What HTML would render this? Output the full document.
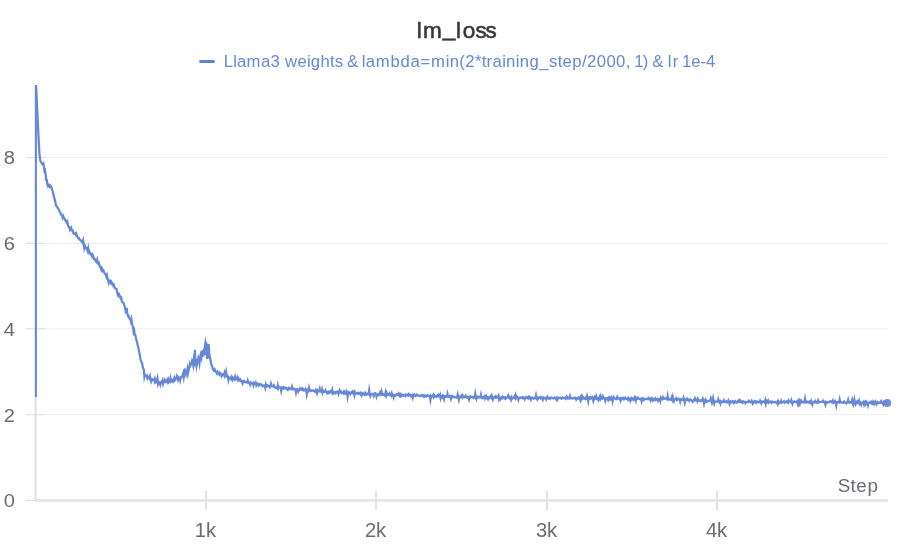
<!DOCTYPE html>
<html lang="en">
<head>
<meta charset="utf-8">
<title>lm_loss</title>
<style>
html,body{margin:0;padding:0;background:#fff;}
body{width:919px;height:552px;overflow:hidden;font-family:"Liberation Sans",Arial,sans-serif;}
svg{display:block;}
</style>
</head>
<body>
<svg width="919" height="552" viewBox="0 0 919 552" font-family="'Liberation Sans', Arial, sans-serif">
<rect width="919" height="552" fill="#ffffff"/>
<rect x="36" y="157.1" width="852" height="1" fill="#eeeef0"/>
<rect x="36" y="242.9" width="852" height="1" fill="#eeeef0"/>
<rect x="36" y="328.3" width="852" height="1" fill="#eeeef0"/>
<rect x="36" y="414.2" width="852" height="1" fill="#eeeef0"/>
<rect x="26" y="157.1" width="19" height="1" fill="#dddde0"/>
<rect x="26" y="242.9" width="19" height="1" fill="#dddde0"/>
<rect x="26" y="328.3" width="19" height="1" fill="#dddde0"/>
<rect x="26" y="414.2" width="19" height="1" fill="#dddde0"/>
<rect x="26" y="499.9" width="9" height="1" fill="#dddde0"/>
<rect x="34.4" y="85" width="2.4" height="416.6" fill="#e3e3e6"/>
<rect x="34.4" y="499.1" width="853.4" height="2.6" fill="#e3e3e6"/>
<rect x="205.0" y="491" width="2" height="19" fill="#e3e3e6"/>
<rect x="375.0" y="491" width="2" height="19" fill="#e3e3e6"/>
<rect x="546.0" y="491" width="2" height="19" fill="#e3e3e6"/>
<rect x="716.0" y="491" width="2" height="19" fill="#e3e3e6"/>
<text transform="scale(1.060,1)" x="3.49" y="163.80" font-size="19" fill="#6b6b76">8</text>
<text transform="scale(1.060,1)" x="3.43" y="250.00" font-size="19" fill="#6b6b76">6</text>
<text transform="scale(1.060,1)" x="3.55" y="336.20" font-size="19" fill="#6b6b76">4</text>
<text transform="scale(1.060,1)" x="3.49" y="421.90" font-size="19" fill="#6b6b76">2</text>
<text transform="scale(1.060,1)" x="3.49" y="506.60" font-size="19" fill="#6b6b76">0</text>
<text transform="scale(1.030,1)" x="189.09 199.96" y="537.00" font-size="19.6" fill="#6b6b76">1k</text>
<text transform="scale(1.030,1)" x="354.40 365.01" y="537.00" font-size="19.6" fill="#6b6b76">2k</text>
<text transform="scale(1.030,1)" x="520.48 531.03" y="537.00" font-size="19.6" fill="#6b6b76">3k</text>
<text transform="scale(1.030,1)" x="685.53 696.08" y="537.00" font-size="19.6" fill="#6b6b76">4k</text>
<text x="837.78 850.46 856.19 867.51" y="491.80" font-size="18.8" fill="#6b6b76">Step</text>
<rect x="34.95" y="85" width="1.95" height="312" fill="#6788d7"/>
<path d="M36.1 85.6L36.57 96.61 37.14 108.11 37.7 119.78 38.27 131.95 38.84 142.68 39.41 153.63 39.97 158.28 40.54 161.33 41.11 162.32 41.68 163.13 42.24 164.32 42.81 164.25 43.38 163.63 43.95 166.74 44.51 170.95 45.08 170.36 45.65 174.61 46.22 179.94 46.78 180.04 47.35 184.46 47.92 185.99 48.49 185 49.05 185.76 49.62 186.61 50.19 185.37 50.76 186.12 51.32 186.95 51.89 188.84 52.46 190.69 53.03 192.54 53.59 195.14 54.16 197.2 54.73 199.5 55.3 201.8 55.86 204.89 56.43 206.3 57 206.63 57.57 207.87 58.13 208.38 58.7 209.58 59.27 210.5 59.84 212.07 60.4 212.73 60.97 213.98 61.54 215.21 62.11 215.38 62.67 217.52 63.24 216.23 63.81 218.22 64.38 218.33 64.94 219.17 65.51 220.68 66.08 221.64 66.65 222.62 67.21 221.52 67.78 223.65 68.35 226.17 68.92 226.64 69.48 227.82 70.05 230.1 70.62 229.47 71.19 228.06 71.75 229.88 72.32 230.89 72.89 230.67 73.46 233.73 74.02 233.89 74.59 233.62 75.16 233.18 75.73 234.61 76.29 233.69 76.86 235.28 77.43 236.53 78 238.02 78.56 238.45 79.13 238.36 79.7 239.62 80.27 240.14 80.84 240.65 81.4 240.77 81.97 242.03 82.54 242.71 83.11 240.54 83.67 244.21 84.24 247.81 84.81 245.54 85.38 246.94 85.94 248.21 86.51 248.2 87.08 249.34 87.65 250.99 88.21 248.37 88.78 252.08 89.35 251.41 89.92 252.63 90.48 254.14 91.05 254.71 91.62 254.19 92.19 256.19 92.75 255.24 93.32 257.18 93.89 258.89 94.46 258.78 95.02 259.79 95.59 260.8 96.16 261.84 96.73 262.36 97.29 260.15 97.86 263.15 98.43 263.95 99 263.23 99.56 265.76 100.13 266.72 100.7 268.18 101.27 269.82 101.83 268.1 102.4 269.39 102.97 271.09 103.54 270.74 104.1 272.03 104.67 273.64 105.24 274.19 105.81 274.7 106.37 276.68 106.94 275.3 107.51 278.48 108.08 280.15 108.64 282.38 109.21 280.27 109.78 280.42 110.35 282.72 110.91 283.45 111.48 282.04 112.05 283.12 112.62 284.14 113.18 285.47 113.75 284.72 114.32 286.69 114.89 287.98 115.45 288.31 116.02 288.8 116.59 289.06 117.16 291.92 117.72 294.38 118.29 293.2 118.86 293.5 119.43 296.64 119.99 296.36 120.56 297.95 121.13 297.58 121.7 300.79 122.27 302.09 122.83 302.61 123.4 302.78 123.97 304.41 124.54 305.83 125.1 308.31 125.67 310.79 126.24 309.47 126.81 309.18 127.37 313.95 127.94 315.94 128.51 315.63 129.08 317.37 129.64 318.87 130.21 319.23 130.78 321.14 131.35 319.15 131.91 322.86 132.48 325.57 133.05 327.68 133.62 331.95 134.18 330.6 134.75 334.7 135.32 334.86 135.89 337.82 136.45 340.16 137.02 341.82 137.59 344.81 138.16 347.1 138.72 349.24 139.29 352.53 139.86 355.03 140.43 358.95 140.99 360.86 141.56 362.39 142.13 363.4 142.7 367 143.26 368.47 143.83 369.58 144.4 376.72 144.97 374.46 145.53 375.06 146.1 375.37 146.67 375.92 147.24 377.98 147.8 376.43 148.37 377.38 148.94 377.72 149.51 378.63 150.07 376.54 150.64 379.53 151.21 381.42 151.78 379.94 152.34 379.3 152.91 380.27 153.48 380.47 154.05 380.39 154.61 378.99 155.18 382.8 155.75 382.52 156.32 380.35 156.88 380.96 157.45 378.67 158.02 383.91 158.59 382.53 159.15 382.15 159.72 382.33 160.29 384.5 160.86 382.26 161.42 381.73 161.99 382.46 162.56 380.79 163.13 383.89 163.69 382.23 164.26 381.92 164.83 380.26 165.4 381.92 165.97 382.17 166.53 381.22 167.1 380.14 167.67 381.73 168.24 379.8 168.8 382.09 169.37 381.31 169.94 381.05 170.51 378.32 171.07 381.19 171.64 380.22 172.21 380.97 172.78 380.22 173.34 381.65 173.91 381 174.48 378.05 175.05 379.54 175.61 378.29 176.18 378.53 176.75 376.4 177.32 377.97 177.88 379.55 178.45 377.35 179.02 378.12 179.59 377.87 180.15 380.28 180.72 377.82 181.29 377 181.86 376.74 182.42 375.68 182.99 373.93 183.56 376.71 184.13 370.32 184.69 369.68 185.26 373.3 185.83 371.06 186.4 370.54 186.96 373.33 187.53 369.39 188.1 372.58 188.67 369.82 189.23 367.36 189.8 364.22 190.37 365.69 190.94 364.47 191.5 363.92 192.07 361.08 192.64 362.43 193.21 365.1 193.77 359.57 194.34 361.61 194.91 349.86 195.48 362.15 196.04 361.48 196.61 365.8 197.18 362.64 197.75 361.26 198.31 358.36 198.88 360.59 199.45 363.44 200.02 358.12 200.58 355.35 201.3 357.6 201.9 350.6 202.5 356.8 203 350.2 203.6 355.6 204.2 348.4 204.55 354.8 204.9 346.6 205.4 343.3 205.9 346.6 206.1 355.2 206.4 343.9 206.9 345 207.1 359 207.7 343.9 208.2 358.4 208.7 344.2 209.2 353.5 209.8 356.5 210.5 360 211 362.6 211.5 365 211.94 365.19 212.5 368.02 213.07 369.39 213.64 370.49 214.21 370.71 214.77 369.58 215.34 371.08 215.91 371.84 216.48 372.17 217.04 373.43 217.61 372.09 218.18 373.39 218.75 373.07 219.31 374.3 219.88 373.08 220.45 374.13 221.02 374.06 221.58 376.15 222.15 375.3 222.72 374.54 223.29 375.43 223.85 375.21 224.42 373.23 224.99 376.14 225.56 375.01 226.12 372.06 226.69 375.32 227.26 376.62 227.83 376.52 228.39 379.91 228.96 377.76 229.53 377.51 230.1 377.93 230.66 378.64 231.23 377.35 231.8 379.61 232.37 380.26 232.93 378.08 233.5 378.94 234.07 378.41 234.64 379.21 235.2 376.69 235.77 378.65 236.34 379.19 236.91 378.96 237.47 377.64 238.04 379.78 238.61 378.82 239.18 380.31 239.74 379.96 240.31 379.49 240.88 381.02 241.45 381.46 242.01 381.35 242.58 383.03 243.15 380.96 243.72 381.11 244.28 381 244.85 382.09 245.42 382.07 245.99 382.11 246.55 382.4 247.12 382.16 247.69 380.69 248.26 382.76 248.82 382.52 249.39 382.96 249.96 384.46 250.53 382.58 251.1 383.49 251.66 383.48 252.23 382.83 252.8 383.15 253.37 385.02 253.93 382.87 254.5 383.46 255.07 383.82 255.64 382.81 256.2 384.99 256.77 383.41 257.34 383.44 257.91 383.77 258.47 385.31 259.04 384.2 259.61 383.92 260.18 384.91 260.74 384.8 261.31 384.49 261.88 385.1 262.45 386.42 263.01 386.14 263.58 385.53 264.15 385.36 264.72 385.44 265.28 387.64 265.85 384.73 266.42 386.69 266.99 386.57 267.55 385.28 268.12 385.6 268.69 385.96 269.26 386.49 269.82 387.4 270.39 386.56 270.96 383.94 271.53 385.89 272.09 386.13 272.66 386.24 273.23 386.52 273.8 385.38 274.36 386.64 274.93 387.65 275.5 387.67 276.07 387.99 276.63 387.85 277.2 388.35 277.77 385.38 278.34 388.01 278.9 386.59 279.47 386.76 280.04 387.06 280.61 387.69 281.17 390.55 281.74 387.45 282.31 387.47 282.88 388.09 283.44 388.55 284.01 387.27 284.58 387.77 285.15 388.15 285.71 387.95 286.28 388.68 286.85 388.15 287.42 388.77 287.98 389.94 288.55 389.46 289.12 387.8 289.69 388.28 290.25 388.73 290.82 389.09 291.39 388.87 291.96 386.82 292.53 388.92 293.09 388.49 293.66 389.28 294.23 389.39 294.8 389.01 295.36 389.25 295.93 392.26 296.5 389.26 297.07 389.12 297.63 389.35 298.2 391.37 298.77 389.94 299.34 390.12 299.9 388.75 300.47 389.61 301.04 389.48 301.61 388.71 302.17 389.63 302.74 388.71 303.31 389.43 303.88 390.45 304.44 390.24 305.01 390.32 305.58 389.01 306.15 389.93 306.71 393.73 307.28 389.95 307.85 389.36 308.42 390.47 308.98 387.85 309.55 390.28 310.12 390.1 310.69 390.99 311.25 390.68 311.82 390.47 312.39 390.66 312.96 390.4 313.52 390.91 314.09 391.21 314.66 390.94 315.23 391.57 315.79 390.17 316.36 391.22 316.93 393.11 317.5 390.5 318.06 391.25 318.63 391.49 319.2 391.31 319.77 389.01 320.33 391.48 320.9 391.52 321.47 391.89 322.04 389.7 322.6 392.49 323.17 390.99 323.74 391.67 324.31 391.88 324.87 391.88 325.44 390.44 326.01 391.65 326.58 391.72 327.14 393.33 327.71 392.96 328.28 392.04 328.85 393.1 329.41 392.69 329.98 391.78 330.55 391.11 331.12 392.09 331.68 391.7 332.25 390 332.82 393.85 333.39 393.57 333.95 392.01 334.52 392.13 335.09 392.22 335.66 393.09 336.23 391.95 336.79 392.1 337.36 391.54 337.93 391.87 338.5 393.8 339.06 391.95 339.63 390.51 340.2 392.12 340.77 392.62 341.33 391.92 341.9 393.05 342.47 392.65 343.04 392.61 343.6 393.33 344.17 391.39 344.74 391.94 345.31 393.56 345.87 393.59 346.44 391.6 347.01 392.85 347.58 396.48 348.14 392.58 348.71 391.97 349.28 392.8 349.85 392.79 350.41 393.97 350.98 392.95 351.55 392.27 352.12 392.77 352.68 391.21 353.25 391.55 353.82 393.22 354.39 395.26 354.95 392.26 355.52 393.34 356.09 393.16 356.66 393.54 357.22 393.37 357.79 392.9 358.36 393.58 358.93 393.12 359.49 393.35 360.06 392.89 360.63 394.2 361.2 393.42 361.76 395.18 362.33 393.71 362.9 393.19 363.47 394.2 364.03 394.29 364.6 394.79 365.17 393.24 365.74 394.53 366.3 394.8 366.87 393.82 367.44 394.09 368.01 394.33 368.57 394.09 369.14 390.4 369.71 394.37 370.28 395.95 370.84 394.3 371.41 394.36 371.98 393.8 372.55 394.09 373.11 394.72 373.68 395.82 374.25 393.72 374.82 393.1 375.38 393.28 375.95 394.42 376.52 396.48 377.09 394.33 377.66 394.45 378.22 394.5 378.79 395.15 379.36 393.88 379.93 392.6 380.49 394.55 381.06 394.5 381.63 392.08 382.2 394.72 382.76 394.86 383.33 394.31 383.9 394.68 384.47 395.15 385.03 395.63 385.6 392.73 386.17 395.22 386.74 393.29 387.3 394.96 387.87 394.75 388.44 394.43 389.01 394.8 389.57 393.63 390.14 394.84 390.71 394.4 391.28 395.42 391.84 393.23 392.41 394.58 392.98 394.91 393.55 397.07 394.11 394.92 394.68 395.16 395.25 395 395.82 395.69 396.38 394.81 396.95 394.21 397.52 394.57 398.09 394.81 398.65 393.71 399.22 395.29 399.79 393.81 400.36 393.78 400.92 396.17 401.49 395.59 402.06 394.68 402.63 394.87 403.19 395.71 403.76 395.28 404.33 394.78 404.9 395.1 405.46 395.89 406.03 394.62 406.6 394.8 407.17 395.26 407.73 394.68 408.3 395.43 408.87 394.23 409.44 395.2 410 395.42 410.57 394.95 411.14 396.21 411.71 395.67 412.27 395.22 412.84 397.38 413.41 395.09 413.98 395.49 414.54 394.71 415.11 395.52 415.68 396.1 416.25 395.78 416.81 394.73 417.38 395.35 417.95 395.5 418.52 395.47 419.08 395.54 419.65 395.61 420.22 396.08 420.79 395.41 421.36 395.5 421.92 395.59 422.49 395.07 423.06 395.94 423.63 395.66 424.19 396.82 424.76 396.41 425.33 395.4 425.9 395.45 426.46 396.35 427.03 395.92 427.6 395.4 428.17 395.99 428.73 395.82 429.3 396.12 429.87 396.11 430.44 399.47 431 396.12 431.57 397.04 432.14 395.98 432.71 395.87 433.27 394.9 433.84 396.88 434.41 395.48 434.98 396.23 435.54 396.2 436.11 396.76 436.68 396.08 437.25 395.53 437.81 396.11 438.38 394.95 438.95 396.01 439.52 396.49 440.08 395.11 440.65 398.26 441.22 396.42 441.79 396.1 442.35 397.03 442.92 395.7 443.49 396.37 444.06 398.76 444.62 396.36 445.19 396.86 445.76 396.22 446.33 396.58 446.89 396.63 447.46 393.99 448.03 396.53 448.6 396.68 449.16 396.67 449.73 395.99 450.3 396.57 450.87 398.6 451.43 396.47 452 397.21 452.57 396.24 453.14 396.73 453.7 396.81 454.27 396.93 454.84 397.15 455.41 397.35 455.97 397.15 456.54 397.42 457.11 397.15 457.68 394.63 458.24 397.12 458.81 399.61 459.38 396.87 459.95 396.4 460.51 397.43 461.08 397.19 461.65 395.92 462.22 397.14 462.79 395.67 463.35 396.9 463.92 397.14 464.49 397.26 465.06 396.41 465.62 395.71 466.19 397.17 466.76 397.66 467.33 397.6 467.89 396.91 468.46 397.13 469.03 399.34 469.6 397.19 470.16 396.42 470.73 397.2 471.3 396.89 471.87 397.01 472.43 396.86 473 397.51 473.57 398 474.14 397.14 474.7 397.27 475.27 393.95 475.84 397.2 476.41 399.02 476.97 397.19 477.54 396.67 478.11 397.38 478.68 397.47 479.24 397.42 479.81 397.62 480.38 397.24 480.95 394.73 481.51 397.29 482.08 398.09 482.65 397.25 483.22 397.58 483.78 396.77 484.35 396.3 484.92 398.43 485.49 397.15 486.05 395.98 486.62 397.48 487.19 398.47 487.76 397.78 488.32 399.24 488.89 398.51 489.46 397.32 490.03 396.95 490.59 396.24 491.16 397.29 491.73 395.75 492.3 397.69 492.86 399.35 493.43 397.59 494 397.85 494.57 397.7 495.13 396.68 495.7 396.19 496.27 397.81 496.84 397.65 497.4 397.3 497.97 397.27 498.54 395.95 499.11 399.37 499.67 398.12 500.24 399.16 500.81 398.08 501.38 397.47 501.94 398.18 502.51 397.01 503.08 397.78 503.65 397.13 504.21 397.42 504.78 398.32 505.35 397.48 505.92 398.44 506.49 397.71 507.05 397.29 507.62 397.23 508.19 395.73 508.76 397.7 509.32 398.25 509.89 397.18 510.46 397.61 511.03 399.51 511.59 397.51 512.16 398.82 512.73 398.25 513.3 397.66 513.86 397.85 514.43 396.55 515 397.69 515.57 395.41 516.13 397.57 516.7 396.44 517.27 397.24 517.84 397.53 518.4 399.68 518.97 397.9 519.54 397.7 520.11 397.76 520.67 397.5 521.24 397.48 521.81 397.84 522.38 398.16 522.94 397.22 523.51 397.72 524.08 397.99 524.65 399.22 525.21 397.47 525.78 397.69 526.35 397.91 526.92 397.14 527.48 397.98 528.05 398.35 528.62 397.05 529.19 397.86 529.75 397.07 530.32 397.89 530.89 399.48 531.46 397.94 532.02 397.43 532.59 397.64 533.16 398.08 533.73 398.62 534.29 397.87 534.86 397.92 535.43 398.1 536 395.55 536.56 398.35 537.13 399.34 537.7 397.9 538.27 398.43 538.83 397.61 539.4 397.31 539.97 397.63 540.54 398.24 541.1 397.12 541.67 397.95 542.24 397.89 542.81 399.47 543.37 397.8 543.94 398.46 544.51 398.34 545.08 397.78 545.64 397.97 546.21 399.38 546.78 398.14 547.35 396.84 547.92 398.11 548.48 398.59 549.05 398.53 549.62 397.98 550.19 398.63 550.75 398.11 551.32 397.51 551.89 397.75 552.46 398.18 553.02 398.13 553.59 398.58 554.16 398.38 554.73 397.6 555.29 397.95 555.86 398.21 556.43 399.41 557 397.95 557.56 399.24 558.13 398.07 558.7 397.83 559.27 398.11 559.83 397.82 560.4 397.76 560.97 398.32 561.54 398.6 562.1 398 562.67 397.49 563.24 398.09 563.81 398 564.37 398.05 564.94 397.72 565.51 398.56 566.08 397.63 566.64 396.72 567.21 398.42 567.78 398.51 568.35 397.73 568.91 397.56 569.48 398.18 570.05 396.16 570.62 398.04 571.18 398.2 571.75 398.05 572.32 398.53 572.89 398.13 573.45 398.01 574.02 398.38 574.59 398.21 575.16 397.67 575.72 398.08 576.29 399.53 576.86 398.69 577.43 398.2 577.99 398.4 578.56 397.5 579.13 398.09 579.7 399.06 580.26 397.66 580.83 400.04 581.4 398.41 581.97 396.43 582.53 398.17 583.1 397.29 583.67 398.14 584.24 398.6 584.8 398.14 585.37 398.76 585.94 397.78 586.51 398.42 587.07 396.22 587.64 398.36 588.21 401.15 588.78 398.14 589.35 397.15 589.91 397.03 590.48 398.64 591.05 398.28 591.62 398.42 592.18 397.29 592.75 398.24 593.32 400.8 593.89 398.86 594.45 397.44 595.02 398.77 595.59 398.39 596.16 396.5 596.72 398.48 597.29 398.02 597.86 398.15 598.43 399.88 598.99 398.72 599.56 397.14 600.13 398.61 600.7 396.53 601.26 398.61 601.83 398.08 602.4 398.43 602.97 396.55 603.53 398.09 604.1 398.42 604.67 398.35 605.24 400.5 605.8 398.31 606.37 398.29 606.94 398.18 607.51 398.42 608.07 399.75 608.64 398.08 609.21 398.91 609.78 397.83 610.34 399.25 610.91 398.45 611.48 397.37 612.05 398.59 612.61 401.25 613.18 398.4 613.75 397.16 614.32 398.36 614.88 398.5 615.45 398.86 616.02 399.19 616.59 398.26 617.15 397.08 617.72 398.62 618.29 398.59 618.86 398.11 619.42 398.64 619.99 399.06 620.56 400.56 621.13 398.45 621.69 399.18 622.26 398.35 622.83 397.8 623.4 397.96 623.96 398.98 624.53 397.81 625.1 397.63 625.67 398.73 626.23 398.99 626.8 398.97 627.37 398.5 627.94 399.56 628.5 397.93 629.07 398.52 629.64 398.55 630.21 400.38 630.77 398.46 631.34 397.96 631.91 399.18 632.48 398.37 633.05 398.65 633.61 399.64 634.18 398.59 634.75 397.27 635.32 398.72 635.88 400.65 636.45 398.21 637.02 398.89 637.59 398.57 638.15 397.74 638.72 398.45 639.29 399.03 639.86 399.18 640.42 398.79 640.99 398.66 641.56 400.99 642.13 398.67 642.69 399.22 643.26 398.65 643.83 399.96 644.4 399.29 644.96 398.87 645.53 398.8 646.1 398.98 646.67 399.11 647.23 398.98 647.8 399.19 648.37 397.98 648.94 398.84 649.5 399.34 650.07 398.89 650.64 400.51 651.21 398.99 651.77 398.17 652.34 399.25 652.91 400.36 653.48 399.04 654.04 399.21 654.61 399.72 655.18 398.58 655.75 399.81 656.31 399.16 656.88 398.91 657.45 398.88 658.02 400.9 658.58 400.33 659.15 399.18 659.72 398.94 660.29 400.75 660.85 397.35 661.42 397.9 661.99 399.16 662.56 399.29 663.12 397.39 663.69 398.67 664.26 398.26 664.83 398.85 665.39 398.69 665.96 398.49 666.53 398.52 667.1 399.22 667.66 396.13 668.23 399.42 668.8 399.18 669.37 399.07 669.93 399.51 670.5 399.79 671.07 399.16 671.64 397.55 672.2 399.42 672.77 396.92 673.34 399.63 673.91 401.03 674.48 399.44 675.04 399.21 675.61 399.03 676.18 398.33 676.75 399.99 677.31 399.52 677.88 399.16 678.45 398.72 679.02 399.18 679.58 399.61 680.15 401.46 680.72 399.17 681.29 399.42 681.85 399.53 682.42 399.89 682.99 399.67 683.56 397.89 684.12 400.2 684.69 402.51 685.26 399.54 685.83 399.41 686.39 399.72 686.96 398.8 687.53 400.27 688.1 400.32 688.66 399.85 689.23 400.89 689.8 400.01 690.37 399.58 690.93 400.09 691.5 400.3 692.07 400.41 692.64 401.68 693.2 401.11 693.77 400.09 694.34 400.14 694.91 398.59 695.47 400.18 696.04 399.74 696.61 399.56 697.18 400.9 697.74 398.7 698.31 399.69 698.88 400.66 699.45 400.55 700.01 400.42 700.58 401.04 701.15 400.16 701.72 400.11 702.28 400.62 702.85 398.93 703.42 400.75 703.99 403.4 704.55 400.89 705.12 401.53 705.69 399.75 706.26 400.72 706.82 401.72 707.39 401.49 707.96 401.01 708.53 401.13 709.09 400.62 709.66 400.64 710.23 400.69 710.8 398.7 711.36 400.98 711.93 402.88 712.5 400.96 713.07 398.26 713.63 401.19 714.2 403.32 714.77 401.3 715.34 401.55 715.9 401.57 716.47 401.59 717.04 401.59 717.61 401.5 718.18 399.57 718.74 401.84 719.31 402.33 719.88 401.39 720.45 403.3 721.01 401.24 721.58 401.51 722.15 401.88 722.72 402.12 723.28 401.42 723.85 400.27 724.42 401.81 724.99 401.86 725.55 402.11 726.12 401.46 726.69 402.38 727.26 402.29 727.82 402.1 728.39 400.62 728.96 401.97 729.53 403.77 730.09 402.11 730.66 401.48 731.23 402.12 731.8 402.38 732.36 402.34 732.93 401.19 733.5 401.67 734.07 402.99 734.63 402.35 735.2 401.29 735.77 401.91 736.34 402.45 736.9 402.61 737.47 401.95 738.04 401.08 738.61 401.49 739.17 400.32 739.74 401.35 740.31 400.81 740.88 402.21 741.44 402.22 742.01 401.88 742.58 402.71 743.15 401.29 743.71 401.44 744.28 402.09 744.85 401.96 745.42 403.16 745.98 402.23 746.55 402.11 747.12 402 747.69 401.81 748.25 402.09 748.82 400.93 749.39 401.7 749.96 402.13 750.52 402.09 751.09 402 751.66 400.78 752.23 401.74 752.79 403.74 753.36 403.14 753.93 402.53 754.5 400.88 755.06 400.96 755.63 401.53 756.2 402.56 756.77 401.51 757.33 401.57 757.9 401.65 758.47 402.33 759.04 402.03 759.61 402.2 760.17 400.63 760.74 401.64 761.31 403.19 761.88 401.76 762.44 402.3 763.01 402.12 763.58 401.53 764.15 401.65 764.71 402.35 765.28 400.33 765.85 403.29 766.42 400.72 766.98 401.4 767.55 402.05 768.12 400.85 768.69 402.53 769.25 401.92 769.82 401.68 770.39 401.41 770.96 402.05 771.52 402.72 772.09 401.65 772.66 401.88 773.23 402.08 773.79 402.19 774.36 402.31 774.93 401.93 775.5 402.3 776.06 402.22 776.63 402.89 777.2 401.97 777.77 403.75 778.33 401.44 778.9 402.55 779.47 402.9 780.04 402.07 780.6 402.26 781.17 400.88 781.74 402.61 782.31 402.24 782.87 402.09 783.44 402.09 784.01 401.4 784.58 402.63 785.14 402.03 785.71 402.13 786.28 401.43 786.85 402.16 787.41 401.61 787.98 402.39 788.55 400.46 789.12 401.26 789.68 401.54 790.25 401.88 790.82 402.21 791.39 400.26 791.95 402.02 792.52 403.78 793.09 401.96 793.66 401.73 794.22 401.41 794.79 401.98 795.36 401.8 795.93 401.66 796.49 402.13 797.06 401.62 797.63 403.53 798.2 401.63 798.76 403.74 799.33 401.4 799.9 403.22 800.47 400.9 801.03 400.27 801.6 401.14 802.17 402.29 802.74 401.61 803.31 401.7 803.87 402.24 804.44 401.57 805.01 398.73 805.58 401.99 806.14 401.43 806.71 402.31 807.28 401.86 807.85 401.75 808.41 402.3 808.98 402.7 809.55 401.63 810.12 401.33 810.68 402.45 811.25 400.89 811.82 402.07 812.39 404.17 812.95 402.23 813.52 401.99 814.09 402.45 814.66 402.1 815.22 401.11 815.79 402.09 816.36 402.74 816.93 402.12 817.49 401.96 818.06 400.52 818.63 402.36 819.2 401.97 819.76 401.87 820.33 401.94 820.9 402.01 821.47 401.9 822.03 401.83 822.6 402.07 823.17 400.87 823.74 401.7 824.3 402.05 824.87 402.36 825.44 404.44 826.01 402.15 826.57 402.95 827.14 402.29 827.71 402.43 828.28 402.28 828.84 402.26 829.41 401.64 829.98 401.46 830.55 401 831.11 401.28 831.68 402.3 832.25 402.29 832.82 400.8 833.38 402.76 833.95 402.1 834.52 402.21 835.09 401.17 835.65 402.38 836.22 405.2 836.79 402.05 837.36 402.15 837.92 402.19 838.49 402.23 839.06 402.52 839.63 399.64 840.19 402.27 840.76 402.13 841.33 402.38 841.9 402.45 842.46 402.76 843.03 402.93 843.6 402.69 844.17 401.57 844.74 402.32 845.3 402.7 845.87 402.72 846.44 403.32 847.01 402.22 847.57 401.81 848.14 399.85 848.71 402.26 849.28 402.55 849.84 402 850.41 402.2 850.98 402.55 851.55 402.18 852.11 399.89 852.68 402.22 853.25 404.5 853.82 402.47 854.38 399.55 854.95 402.46 855.52 404.09 856.09 402.37 856.65 402.76 857.22 401.57 857.79 402.65 858.36 402.02 858.92 400.81 859.49 403.42 860.06 402.23 860.63 403.06 861.19 404.53 861.76 402.63 862.33 402.8 862.9 403.1 863.46 402.18 864.03 404.32 864.6 402.39 865.17 401.75 865.73 403.61 866.3 401.79 866.87 402.63 867.44 402.84 868 405.1 868.57 402.77 869.14 402.87 869.71 402.78 870.27 402.09 870.84 402.99 871.41 403.32 871.98 402.08 872.54 404.08 873.11 403.98 873.68 402.54 874.25 404.04 874.81 403.12 875.38 401.74 875.95 402.91 876.52 404.17 877.08 402.99 877.65 402.15 878.22 402.74 878.79 402.93 879.35 402.71 879.92 402.74 880.49 402.03 881.06 401.19 881.62 402.65 882.19 402.83 882.76 403.01 883.33 404.19 883.89 402.05 884.46 402.76 885.03 403.66 885.6 403.52 886.16 402.2 886.73 403.22 887.3 403" fill="none" stroke="#6788d7" stroke-width="2.25" stroke-linejoin="miter" stroke-miterlimit="10" stroke-linecap="butt"/>
<circle cx="887.3" cy="403" r="3.9" fill="#6788d7" fill-opacity="0.94"/>
<text x="416.70 423.12 442.79 456.10 462.64 475.42 485.62" y="37.60 37.60 36.20 37.60 37.60 37.60 37.60" font-size="22.5" fill="#363a3d" stroke="#363a3d" stroke-width="0.6">lm_loss</text>
<rect x="199.3" y="59.9" width="15.5" height="3" rx="0.7" fill="#6184d6"/>
<text x="223.63 233.19 237.01 246.57 260.89 270.45 280.28 284.92 297.40 307.00 310.84 320.45 330.05 334.85 342.32 346.97 357.08 361.72 365.70 375.66 390.57 400.53 410.49 420.45 430.90 445.82 449.80 459.36 465.20 474.94 481.75 486.62 492.45 502.19 506.08 515.82 519.71 529.45 539.19 548.93 557.69 562.55 572.29 582.03 586.90 596.64 606.38 616.12 625.86 629.59 634.23 642.77 647.62 652.27 663.23 667.87 672.82 677.39 682.03 691.21 700.40 705.90" y="66.8" font-size="16.7" fill="#6788d7">Llama3 weights &amp; lambda=min(2*training_step/2000, 1) &amp; lr 1e-4</text>
</svg>
</body>
</html>
